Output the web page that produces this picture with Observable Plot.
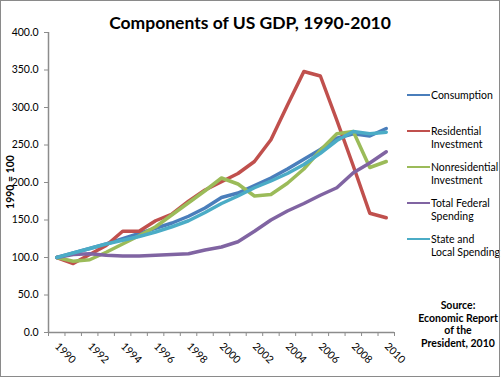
<!DOCTYPE html>
<html>
<head>
<meta charset="utf-8">
<script src="https://cdn.jsdelivr.net/npm/d3@7"></script>
<script src="https://cdn.jsdelivr.net/npm/@observablehq/plot@0.6"></script>
<style>
  html, body { margin: 0; padding: 0; background: #fff; }
  #wrap { position: relative; width: 504px; height: 379px; font-family: Lato, "Open Sans", sans-serif; color: #000; }
  #border { position: absolute; left: 0; top: 0; width: 498px; height: 375px; border: 1px solid #8a8a8a; pointer-events: none; }
  #title { position: absolute; left: 0; width: 500px; top: 12px; text-align: center; font-weight: bold; font-size: 17.5px; }
  #ylab { position: absolute; left: 10px; top: 182px; transform: translate(-50%, -50%) rotate(-90deg); font-weight: bold; font-size: 10.5px; white-space: nowrap; }
  .leg { position: absolute; left: 407px; font-size: 10.5px; line-height: 12.5px; }
  .leg .sw { position: absolute; left: 0; top: 5px; width: 23px; height: 2px; }
  .leg .tx { position: absolute; left: 24px; top: 0; white-space: nowrap; }
  #source { position: absolute; left: 408px; width: 100px; top: 299px; text-align: center; font-weight: bold; font-size: 10.5px; line-height: 12.5px; }
  svg text { font-family: Lato, "Open Sans", sans-serif; }
</style>
</head>
<body>
<div id="wrap">
  <div id="plot"></div>
  <div id="title">Components of US GDP, 1990-2010</div>
  <div id="ylab">1990 = 100</div>
  <div id="legend"></div>
  <div id="source">Source:<br>Economic Report<br>of the<br>President, 2010</div>
  <div id="border"></div>
</div>
<script>
const years = [1990,1991,1992,1993,1994,1995,1996,1997,1998,1999,2000,2001,2002,2003,2004,2005,2006,2007,2008,2009,2010];
const consumption   = [100,106,112,118,125,132,139,146,155,166,180,186,196,206,218,231,244,259,265,262,272];
const residential   = [100, 92,104,116,135,135,149,158,175,190,201,212,228,257,303,348,342,283,222,159,153];
const nonresidential= [100, 95, 97,107,118,129,141,157,173,189,206,198,182,184,199,218,243,265,268,220,228];
const federal       = [100,104,105,103,102,102,103,104,105,110,114,121,135,150,162,172,183,193,213,226,241];
const stateLocal    = [100,106,112,118,123,128,134,141,149,160,172,182,193,202,212,224,239,256,268,265,267];
const seriesNames = ["Consumption","Residential Investment","Nonresidential Investment","Total Federal Spending","State and Local Spending"];
const legendLines = [["Consumption"],["Residential","Investment"],["Nonresidential","Investment"],["Total Federal","Spending"],["State and","Local Spending"]];
const colors = ["#4a7ebb","#c0504d","#9bbb59","#8064a2","#4bacc6"];
const yTicks = [0,50,100,150,200,250,300,350,400];
const xLabelYears = [1990,1992,1994,1996,1998,2000,2002,2004,2006,2008,2010];

const seriesValues = [consumption, residential, nonresidential, federal, stateLocal];
const data = [];
seriesNames.forEach((name, s) => {
  years.forEach((yr, i) => data.push({series: name, year: yr, value: seriesValues[s][i]}));
});
const boundaries = d3.range(years[0] - 0.5, years[years.length - 1] + 1, 1);

const axisColor = "#8c8c8c";
const chart = Plot.plot({
  width: 504,
  height: 379,
  marginLeft: 48,
  marginRight: 110,
  marginTop: 32,
  marginBottom: 47,
  style: {fontSize: "10.5px", background: "transparent"},
  x: {domain: [years[0] - 0.5, years[years.length - 1] + 0.5]},
  y: {domain: [0, 400]},
  color: {domain: seriesNames, range: colors},
  marks: [
    Plot.axisY({ticks: yTicks, tickFormat: d3.format(".1f"), tickSize: 4, tickPadding: 6, stroke: axisColor, label: null}),
    Plot.axisX({ticks: boundaries, tickFormat: () => "", tickSize: 4, stroke: axisColor, label: null}),
    Plot.axisX({ticks: xLabelYears, tickFormat: d => String(d), tickSize: 0, tickPadding: 8, tickRotate: 45, dy: 4, label: null}),
    Plot.ruleY([0], {stroke: axisColor, strokeWidth: 1.5}),
    Plot.ruleX([years[0] - 0.5], {stroke: axisColor, strokeWidth: 1.5}),
    Plot.line(data, {x: "year", y: "value", z: "series", stroke: "series", strokeWidth: 3.5, strokeLinejoin: "round", strokeLinecap: "round"})
  ]
});
document.getElementById("plot").appendChild(chart);

const legendTops = [89, 125, 161, 197, 233];
const leg = document.getElementById("legend");
seriesNames.forEach((name, i) => {
  const d = document.createElement("div");
  d.className = "leg";
  d.style.top = legendTops[i] + "px";
  d.innerHTML = `<div class="sw" style="background:${colors[i]}"></div><div class="tx">${legendLines[i].join("<br>")}</div>`;
  leg.appendChild(d);
});
</script>
</body>
</html>
